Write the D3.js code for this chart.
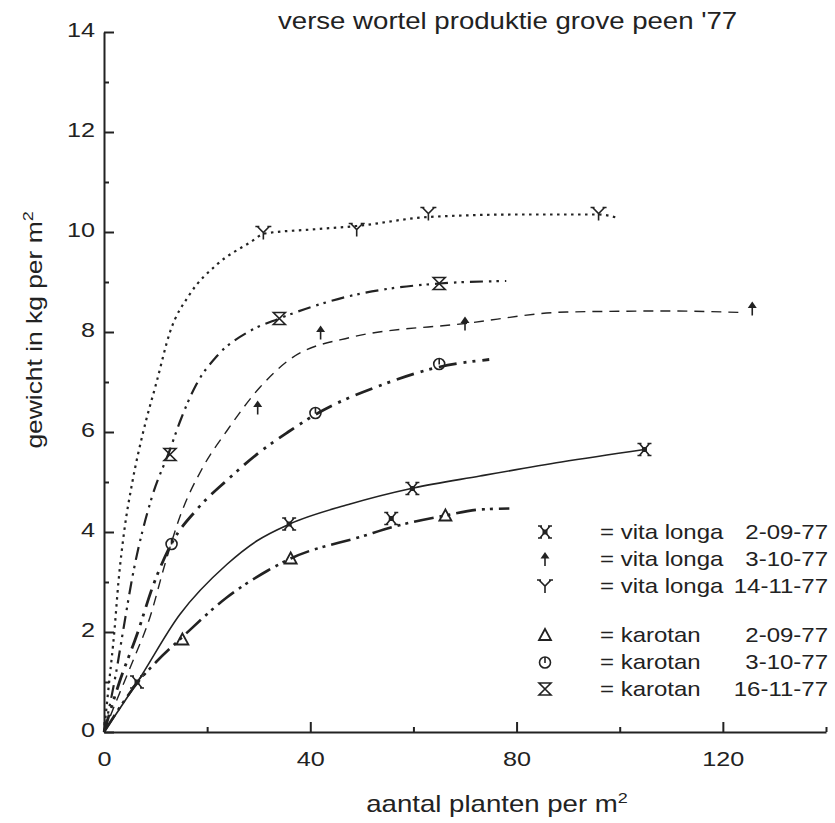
<!DOCTYPE html>
<html>
<head>
<meta charset="utf-8">
<script src="https://cdn.jsdelivr.net/npm/d3@7"></script>
<style>
  body { margin: 0; background: #fff; }
  text { font-family: "Liberation Sans", Arial, Helvetica, sans-serif; fill: #222; }
</style>
</head>
<body>
<svg id="chart" width="835" height="823"></svg>
<script>
// values: x = plants per m2, y = kg per m2
const legendVariety = ["vita longa", "vita longa", "vita longa", "karotan", "karotan", "karotan"];
const legendDate = ["2-09-77", "3-10-77", "14-11-77", "2-09-77", "3-10-77", "16-11-77"];
const xTicks = [0, 40, 80, 120];
const xMinorTicks = [20, 60, 100, 140];
const yTicks = [0, 2, 4, 6, 8, 10, 12, 14];
const yMinorTicks = [1, 3, 5, 7, 9, 11, 13];

// measured points (markers)
const vitaLonga0209 = [[6.4, 1.0], [35.9, 4.16], [55.7, 4.27], [59.8, 4.87], [104.8, 5.65]];
const vitaLonga0310 = [[29.8, 6.49], [42.0, 7.99], [70.0, 8.17], [125.7, 8.47]];
const vitaLonga1411 = [[30.9, 9.99], [49.0, 10.05], [62.9, 10.37], [95.9, 10.37]];
const karotan0209 = [[15.2, 1.85], [36.2, 3.47], [66.2, 4.33]];
const karotan0310 = [[13.1, 3.77], [41.0, 6.39], [65.0, 7.37]];
const karotan1611 = [[12.8, 5.55], [34.0, 8.27], [65.0, 8.97]];

// hand fitted curves
const vitaLonga0209Fit = [[0, 0], [6.6, 1.02], [14.7, 2.35], [23.8, 3.35], [29.6, 3.82], [36, 4.16], [47.4, 4.55], [60, 4.88], [72.9, 5.12], [88.7, 5.4], [104.8, 5.65]];
const vitaLonga0310Fit = [[0, 0], [2.4, 0.62], [5.6, 1.42], [8.9, 2.29], [11.8, 3.35], [14.7, 4.3], [19.2, 5.3], [23.8, 6.02], [30.2, 6.89], [36, 7.45], [47.7, 7.89], [70, 8.17], [89.7, 8.4], [110, 8.42], [123.5, 8.39]];
const vitaLonga1411Fit = [[0, 0], [1.0, 1.0], [2.0, 2.0], [2.8, 3.0], [3.9, 4.0], [5.5, 5.0], [7.6, 6.0], [10.2, 7.0], [12.8, 8.0], [16.6, 8.75], [21.9, 9.35], [28.3, 9.79], [31.2, 9.97], [40.3, 10.05], [49, 10.12], [62.9, 10.3], [80.6, 10.35], [95.9, 10.35], [99.7, 10.28]];
const karotan0209Fit = [[0, 0], [6.6, 1.0], [10.1, 1.4], [15.2, 1.9], [23.8, 2.69], [31.6, 3.22], [36.2, 3.47], [50.3, 3.92], [56, 4.1], [66.2, 4.33], [72.9, 4.45], [78.6, 4.47]];
const karotan0310Fit = [[0, 0], [3, 1.0], [6.4, 1.95], [9.6, 2.95], [13.1, 3.77], [18, 4.45], [24, 5.05], [30.2, 5.6], [35.7, 6.0], [41, 6.35], [54.1, 6.95], [65, 7.3], [74.7, 7.45]];
const karotan1611Fit = [[0, 0], [2.4, 1.22], [3.7, 2.02], [5.6, 3.15], [9.3, 4.7], [12.8, 5.65], [14.7, 6.2], [17.9, 6.95], [21.9, 7.52], [28.3, 8.02], [34, 8.27], [47.7, 8.72], [65, 8.97], [78, 9.02]];

const points = [vitaLonga0209, vitaLonga0310, vitaLonga1411, karotan0209, karotan0310, karotan1611];
const fits = [vitaLonga0209Fit, vitaLonga0310Fit, vitaLonga1411Fit, karotan0209Fit, karotan0310Fit, karotan1611Fit];

const svg = d3.select("svg#chart");
const ink = "#222";
const stretch = 1.2; // the original lettering is wider than Arial

const x = d3.scaleLinear().domain([0, 140]).range([104, 826]);
const y = d3.scaleLinear().domain([0, 14]).range([732, 32]);

// line styles and marker symbols per series
const lineStyles = [
    { dash: null, width: 1.6 },
    { dash: "10,7", width: 1.4 },
    { dash: "2.5,4.5", width: 2.2 },
    { dash: "20,6,3,5,3,6", width: 2.6 },
    { dash: "18,7,3,6,3,7", width: 2.8 },
    { dash: "13,6,2.5,5,2.5,6", width: 2.2 }
];
const symbols = ["cross", "arrow", "wye", "triangle", "clock", "hourglass"];

function drawSymbol(g, type) {
    const s = g.append("path").attr("fill", "none").attr("stroke", ink).attr("stroke-width", 1.6);
    if (type === "cross") {
        s.attr("d", "M-5,-6L5,6M5,-6L-5,6M-7,-6H-3M3,-6H7M-7,6H-3M3,6H7");
        g.append("rect").attr("x", -2.5).attr("y", -2.5).attr("width", 5).attr("height", 5).attr("fill", ink);
    } else if (type === "arrow") {
        s.attr("d", "M0,-1V7");
        g.append("path").attr("d", "M0,-7L-4.5,-0.5H4.5Z").attr("fill", ink);
    } else if (type === "wye") {
        s.attr("d", "M-6,-6L0,0L6,-6M0,0V7M-8,-6H-4M4,-6H8");
    } else if (type === "triangle") {
        s.attr("d", "M0,-6L6,5H-6Z").attr("stroke-width", 1.8);
    } else if (type === "clock") {
        g.append("circle").attr("r", 5.5).attr("cy", 0.5).attr("fill", "none").attr("stroke", ink).attr("stroke-width", 1.6);
        s.attr("d", "M0,-5V1");
    } else if (type === "hourglass") {
        s.attr("d", "M-6,-6H6L-6,6H6Z");
    }
}

// axes
const yAxisG = svg.append("g").attr("class", "y axis")
    .attr("transform", `translate(${x(0)},0)`)
    .call(d3.axisLeft(y).tickValues(yTicks).tickSizeInner(-10).tickSizeOuter(0).tickPadding(7.5));
svg.append("g").attr("class", "y minor")
    .attr("transform", `translate(${x(0)},0)`)
    .call(d3.axisLeft(y).tickValues(yMinorTicks).tickSizeInner(-5).tickSizeOuter(0).tickFormat(""))
    .select(".domain").remove();

const xAxisG = svg.append("g").attr("class", "x axis")
    .attr("transform", `translate(0,${y(0)})`)
    .call(d3.axisBottom(x).tickValues(xTicks).tickSizeInner(-10).tickSizeOuter(0).tickPadding(19));
svg.append("g").attr("class", "x minor")
    .attr("transform", `translate(0,${y(0)})`)
    .call(d3.axisBottom(x).tickValues(xMinorTicks).tickSizeInner(-5).tickSizeOuter(0).tickFormat(""))
    .select(".domain").remove();

svg.selectAll(".axis path, .axis line, .minor line")
    .attr("stroke", ink).attr("stroke-width", 2);
svg.selectAll(".axis text")
    .attr("font-size", 21)
    .attr("fill", ink)
    .attr("transform", `scale(${stretch},1)`);
yAxisG.selectAll("text").attr("dy", "0.22em");

// curves
const line = d3.line().x(d => x(d[0])).y(d => y(d[1])).curve(d3.curveMonotoneX);
svg.append("g").attr("id", "curves")
    .selectAll("path").data(fits).join("path")
    .attr("d", line)
    .attr("fill", "none")
    .attr("stroke", ink)
    .attr("stroke-width", (d, i) => lineStyles[i].width)
    .attr("stroke-dasharray", (d, i) => lineStyles[i].dash)
    .attr("stroke-linecap", "butt");

// markers
const markerG = svg.append("g").attr("id", "markers");
points.forEach((pts, i) => {
    markerG.selectAll(`g.m${i}`).data(pts).join("g")
        .attr("class", `m${i}`)
        .attr("transform", d => `translate(${x(d[0])},${y(d[1])})`)
        .each(function () { drawSymbol(d3.select(this), symbols[i]); });
});

// legend
const legend = svg.append("g").attr("id", "legend");
legendVariety.forEach((v, i) => {
    const rowY = i < 3 ? 532 + i * 27 : 635 + (i - 3) * 27;
    drawSymbol(legend.append("g").attr("transform", `translate(545,${rowY})`), symbols[i]);
    legend.append("text")
        .attr("transform", `translate(600,${rowY + 7}) scale(${stretch},1)`)
        .attr("font-size", 20)
        .text(`= ${v}`);
    legend.append("text")
        .attr("transform", `translate(828,${rowY + 7}) scale(${stretch},1)`)
        .attr("text-anchor", "end")
        .attr("font-size", 20)
        .text(legendDate[i]);
});

// titles
svg.append("text")
    .attr("transform", `translate(278,29) scale(${stretch},1)`)
    .attr("font-size", 23)
    .text("verse wortel produktie grove peen '77");

const xTitle = svg.append("text")
    .attr("transform", `translate(497,812) scale(${stretch},1)`)
    .attr("text-anchor", "middle")
    .attr("font-size", 23);
xTitle.append("tspan").text("aantal planten per m");
xTitle.append("tspan").attr("dy", -9).attr("font-size", 15).text("2");

const yTitle = svg.append("text")
    .attr("transform", `translate(42,330) rotate(-90) scale(${stretch},1)`)
    .attr("text-anchor", "middle")
    .attr("font-size", 22);
yTitle.append("tspan").text("gewicht in kg per m");
yTitle.append("tspan").attr("dy", -9).attr("font-size", 15).text("2");
</script>
</body>
</html>
